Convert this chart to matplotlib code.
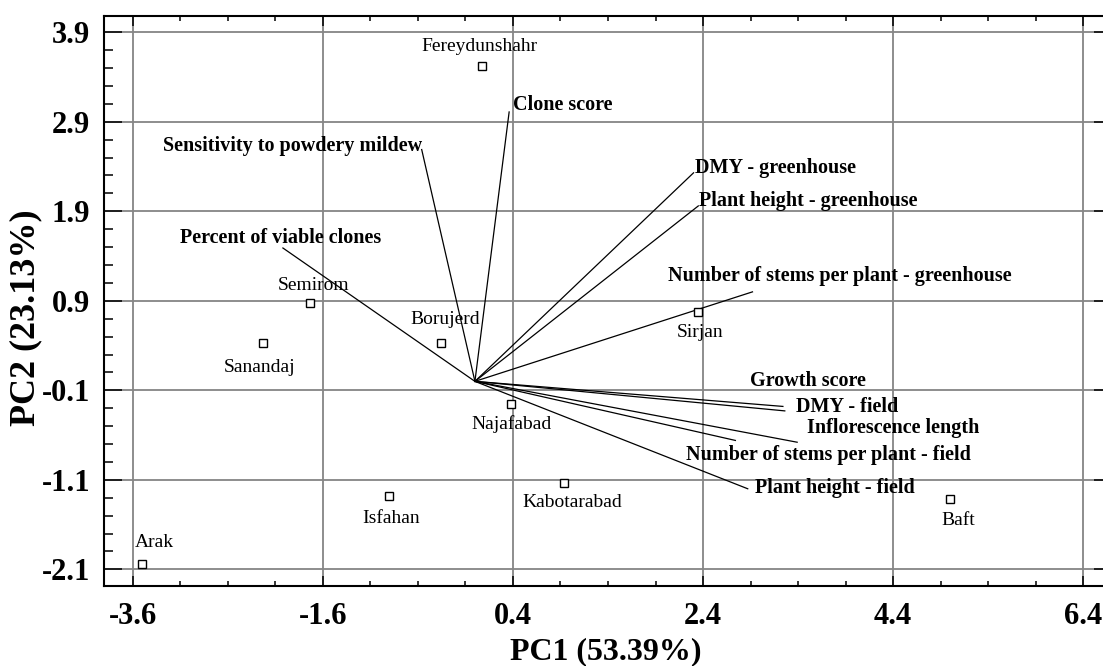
import numpy as np
import matplotlib
matplotlib.use("Agg")
import matplotlib.pyplot as plt
from matplotlib.ticker import FixedLocator

# ---------------- data ----------------
genotypes = ["Fereydunshahr", "Semirom", "Borujerd", "Sanandaj", "Najafabad",
             "Isfahan", "Arak", "Kabotarabad", "Baft", "Sirjan"]
geno_pc1 = [0.07, -1.73, -0.36, -2.23, 0.38, -0.90, -3.50, 0.94, 5.00, 2.35]
geno_pc2 = [3.52, 0.88, 0.43, 0.43, -0.25, -1.28, -2.04, -1.14, -1.31, 0.77]

traits = ["Clone score", "Sensitivity to powdery mildew", "Percent of viable clones",
          "DMY - greenhouse", "Plant height - greenhouse",
          "Number of stems per plant - greenhouse", "Growth score", "DMY - field",
          "Inflorescence length", "Number of stems per plant - field",
          "Plant height - field"]
trait_pc1 = [0.36, -0.56, -2.02, 2.30, 2.35, 2.92, 3.24, 3.26, 3.39, 2.74, 2.87]
trait_pc2 = [3.01, 2.59, 1.49, 2.33, 1.96, 1.00, -0.28, -0.33, -0.68, -0.66, -1.20]

x_ticks = [-3.6, -1.6, 0.4, 2.4, 4.4, 6.4]
y_ticks = [-2.1, -1.1, -0.1, 0.9, 1.9, 2.9, 3.9]
x_label = "PC1 (53.39%)"
y_label = "PC2 (23.13%)"

# ---------------- label placement (points offset, alignment) ----------------
geno_offsets = {
    "Fereydunshahr": (-1.4, 14.4), "Semirom": (2.2, 12.2), "Borujerd": (2.9, 16.6),
    "Sanandaj": (-2.2, -18.0), "Najafabad": (0.0, -14.4), "Isfahan": (1.4, -16.6),
    "Arak": (8.6, 15.1), "Kabotarabad": (5.8, -13.7), "Baft": (5.8, -15.8),
    "Sirjan": (1.4, -14.4),
}
trait_offsets = {
    "Clone score": (2.6, 4.8, "left"),
    "Sensitivity to powdery mildew": (0.0, 2.4, "right"),
    "Percent of viable clones": (-1.4, 7.2, "center"),
    "DMY - greenhouse": (1.2, 3.6, "left"),
    "Plant height - greenhouse": (0.2, 3.4, "left"),
    "Number of stems per plant - greenhouse": (63.1, 11.2, "center"),
    "Growth score": (17.8, 18.2, "center"),
    "DMY - field": (8.4, 2.9, "left"),
    "Inflorescence length": (7.2, 10.5, "left"),
    "Number of stems per plant - field": (66.9, -10.8, "center"),
    "Plant height - field": (4.9, 0.5, "left"),
}

serif = ["Liberation Serif", "DejaVu Serif"]
plt.rcParams['font.family'] = serif

fig = plt.figure(figsize=(11.03, 6.66), dpi=100)
W, H = 1103.0, 666.0
ax = fig.add_axes([104.2 / W, (H - 585.7) / H, 1007.6 / W, 569.7 / H])
ax.set_xlim(-3.9, 6.7)
ax.set_ylim(-2.283, 4.082)

# grid
ax.xaxis.set_major_locator(FixedLocator(x_ticks))
ax.yaxis.set_major_locator(FixedLocator(y_ticks))
ax.xaxis.set_minor_locator(FixedLocator(np.arange(-3.6, 6.7, 0.5)))
ax.yaxis.set_minor_locator(FixedLocator(np.arange(-2.1, 4.09, 0.2)))
ax.grid(True, which='major', color='#858585', linewidth=1.3)
ax.set_axisbelow(True)

ax.set_xticklabels([f"{v:.1f}" for v in x_ticks])
ax.set_yticklabels([f"{v:.1f}" for v in y_ticks])

ax.tick_params(axis='both', which='both', direction='in', top=True, right=True,
               colors='black', width=1.1)
ax.tick_params(axis='x', which='major', length=7.5, pad=12)
ax.tick_params(axis='x', which='minor', length=3.6)
ax.tick_params(axis='y', which='major', length=13, pad=10)
ax.tick_params(axis='y', which='minor', length=6.5)
for lab in ax.get_xticklabels() + ax.get_yticklabels():
    lab.set_fontsize(22)
    lab.set_fontweight('bold')
    lab.set_family(serif)

for sp in ax.spines.values():
    sp.set_linewidth(1.5)
    sp.set_color('black')

# trait vectors
for name, tx, ty in zip(traits, trait_pc1, trait_pc2):
    ax.plot([0, tx], [0, ty], color='black', linewidth=0.9, zorder=3)
    dx, dy, ha = trait_offsets[name]
    ax.annotate(name, (tx, ty), xytext=(dx, dy), textcoords='offset points',
                ha=ha, va='center', fontsize=14.5, fontweight='bold',
                family=serif, zorder=4)

# genotype points
ax.plot(geno_pc1, geno_pc2, linestyle='none', marker='s', markersize=5.5,
        markerfacecolor='white', markeredgecolor='black', markeredgewidth=1.0,
        zorder=5)
for name, gx, gy in zip(genotypes, geno_pc1, geno_pc2):
    dx, dy = geno_offsets[name]
    ax.annotate(name, (gx, gy), xytext=(dx, dy), textcoords='offset points',
                ha='center', va='center', fontsize=14, family=serif, zorder=6)

ax.set_xlabel(x_label, fontsize=23, fontweight='bold', family=serif)
ax.set_ylabel(y_label, fontsize=26, fontweight='bold', family=serif)
ax.xaxis.set_label_coords((606 - 104.2) / 1007.6, (585.7 - 651.7) / 569.7)
ax.xaxis.label.set_va('center')
ax.yaxis.set_label_coords((26 - 104.2) / 1007.6, (585.7 - 318) / 569.7)
ax.yaxis.label.set_va('center')

fig.savefig("out.png", dpi=100)
